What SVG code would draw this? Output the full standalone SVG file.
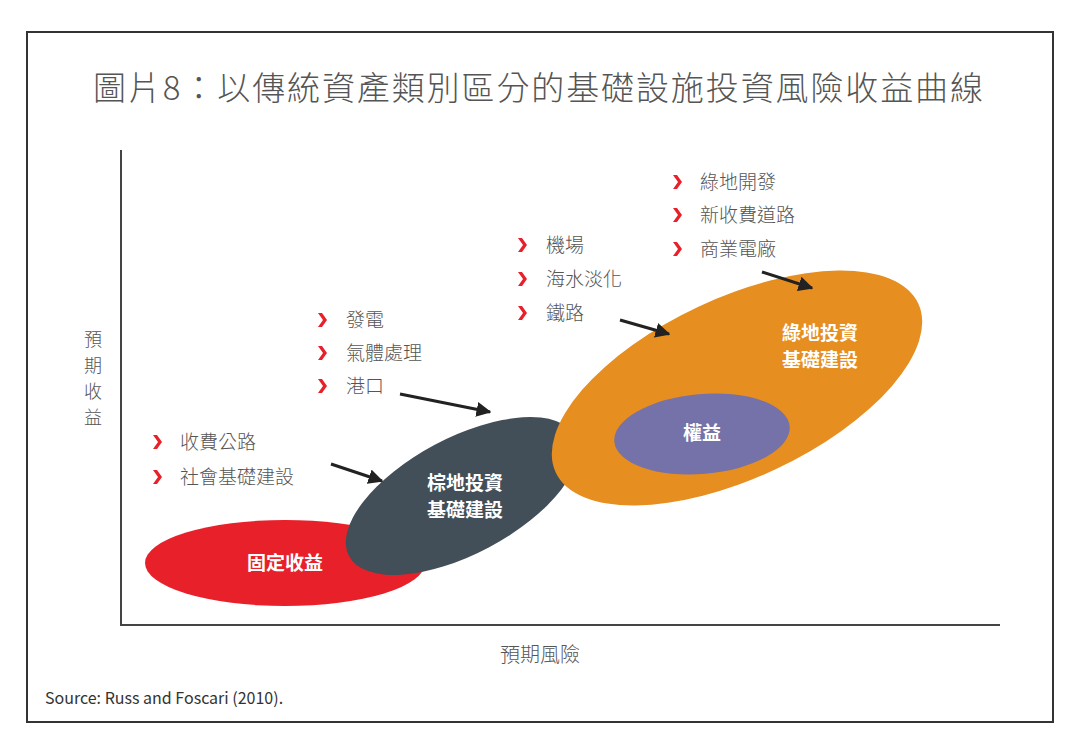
<svg xmlns="http://www.w3.org/2000/svg" width="1081" height="753" viewBox="0 0 1081 753">
<defs>
<marker id="ah" viewBox="0 0 10 10" refX="9" refY="5" markerWidth="5" markerHeight="5" orient="auto"><path d="M0,0 L10,5 L0,10 z" fill="#222"/></marker>
<style>
text{font-family:"Noto Sans CJK TC","Noto Sans CJK SC",sans-serif}
.b{font-size:19px;fill:#555;font-weight:300}
.c{fill:#e8202a}
.w{font-size:19px;fill:#fff;font-weight:bold;text-anchor:middle}
.ar{stroke:#222;stroke-width:3;fill:none;marker-end:url(#ah)}
</style>
<path id="chev" d="M0,-7 L4,-7 L9,0 L4,7 L0,7 L5,0 z"/>
</defs>
<rect width="1081" height="753" fill="#fff"/>
<rect x="27" y="32" width="1026" height="690" fill="none" stroke="#333" stroke-width="2"/>
<text x="538" y="100" font-size="33" fill="#555" font-weight="300" text-anchor="middle" textLength="890">圖片8：以傳統資產類別區分的基礎設施投資風險收益曲線</text>
<g id="axes" stroke="#444" stroke-width="2"><line x1="121" y1="150" x2="121" y2="625"/><line x1="120" y1="625" x2="1000" y2="625"/></g>
<g id="ylabel" font-size="18" fill="#555" font-weight="300" text-anchor="middle"><text x="93" y="346">預</text><text x="93" y="372">期</text><text x="93" y="398">收</text><text x="93" y="424">益</text></g>
<text id="xlabel" x="540" y="662" font-size="20" fill="#555" font-weight="300" text-anchor="middle">預期風險</text>
<g id="fixed"><ellipse cx="285" cy="563" rx="140" ry="43" fill="#e8202a"/></g>
<g id="brown"><ellipse cx="462" cy="496" rx="128" ry="58" transform="rotate(-28 462 496)" fill="#424f59"/></g>
<g id="green"><ellipse cx="737" cy="388" rx="200" ry="90" transform="rotate(-25 737 388)" fill="#e68e1f"/></g>
<g id="equity"><ellipse cx="702" cy="434" rx="88" ry="40" transform="rotate(-5 702 434)" fill="#7472a8"/></g>
<text class="w" x="285" y="570">固定收益</text>
<text class="w" x="465" y="490">棕地投資</text><text class="w" x="465" y="517">基礎建設</text>
<text class="w" x="820" y="340">綠地投資</text><text class="w" x="820" y="367">基礎建設</text>
<text class="w" x="702" y="440">權益</text>
<g id="b1"><use href="#chev" class="c" x="153" y="442"/><text class="b" x="180" y="449">收費公路</text><use href="#chev" class="c" x="153" y="477"/><text class="b" x="180" y="484">社會基礎建設</text></g>
<g id="b2"><use href="#chev" class="c" x="318" y="320"/><text class="b" x="346" y="327">發電</text><use href="#chev" class="c" x="318" y="353"/><text class="b" x="346" y="360">氣體處理</text><use href="#chev" class="c" x="318" y="386"/><text class="b" x="346" y="393">港口</text></g>
<g id="b3"><use href="#chev" class="c" x="518" y="245"/><text class="b" x="546" y="252">機場</text><use href="#chev" class="c" x="518" y="279"/><text class="b" x="546" y="286">海水淡化</text><use href="#chev" class="c" x="518" y="313"/><text class="b" x="546" y="320">鐵路</text></g>
<g id="b4"><use href="#chev" class="c" x="673" y="182"/><text class="b" x="700" y="189">綠地開發</text><use href="#chev" class="c" x="673" y="215"/><text class="b" x="700" y="222">新收費道路</text><use href="#chev" class="c" x="673" y="249"/><text class="b" x="700" y="256">商業電廠</text></g>
<g id="connectors">
<line class="ar" x1="331" y1="464" x2="382" y2="481"/>
<line class="ar" x1="400" y1="394" x2="490" y2="412"/>
<line class="ar" x1="620" y1="320" x2="669" y2="334"/>
<line class="ar" x1="762" y1="272" x2="812" y2="288"/>
</g>
<text x="45" y="704" font-size="16" fill="#333" font-family="Liberation Sans, sans-serif">Source: Russ and Foscari (2010).</text>
</svg>
